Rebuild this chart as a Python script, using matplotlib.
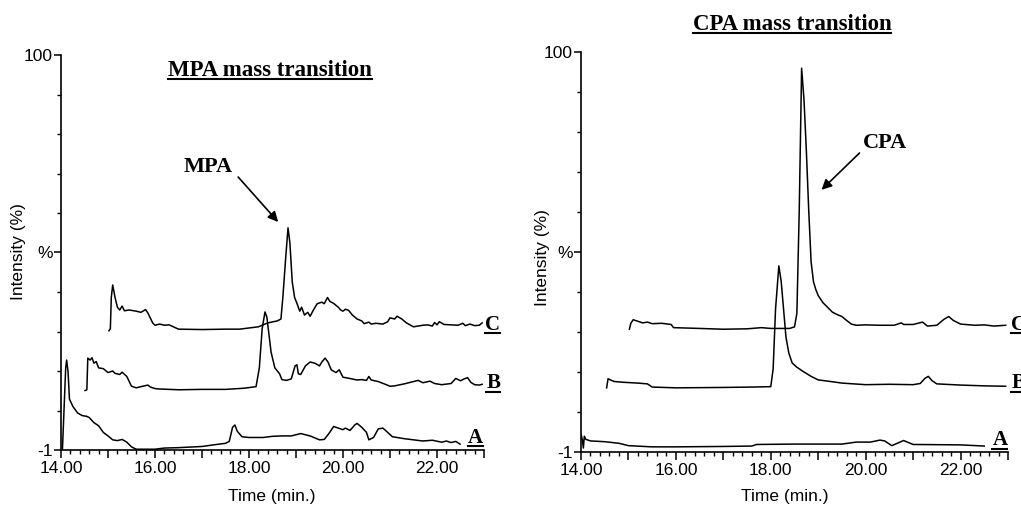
import matplotlib
matplotlib.use("Agg")
import matplotlib.pyplot as plt
from matplotlib.lines import Line2D
import numpy as np

# MPA panel traces (time in min, intensity in %)
mpa_c_t = [15.02, 15.05, 15.07, 15.10, 15.15, 15.2, 15.25, 15.3, 15.35, 15.45, 15.6, 15.7, 15.8, 15.85,
           15.95, 16.0, 16.1, 16.2, 16.3, 16.5, 17.0, 17.5, 17.8, 18.0, 18.2, 18.4, 18.6, 18.68, 18.72,
           18.78, 18.83, 18.87, 18.92, 18.97, 19.02, 19.08, 19.12, 19.18, 19.25, 19.3, 19.38, 19.45,
           19.55, 19.6, 19.67, 19.72, 19.8, 19.9, 19.95, 20.0, 20.05, 20.12, 20.2, 20.3, 20.4, 20.45,
           20.55, 20.6, 20.7, 20.85, 20.95, 21.0, 21.1, 21.15, 21.25, 21.35, 21.5, 21.6, 21.7, 21.8,
           21.9, 21.95, 22.0, 22.05, 22.15, 22.3, 22.45, 22.55, 22.6, 22.7, 22.8, 22.9, 22.96]
mpa_c_v = [29.5, 30, 38, 41.2, 38, 35.5, 34.8, 35.8, 34.6, 34.8, 34.5, 34.2, 34.9, 34,
           31.5, 30.9, 31.2, 30.9, 31, 29.9, 29.8, 29.9, 29.9, 30.2, 30.5, 31.5, 32.0, 32.5, 38,
           48, 55.8, 52, 42, 38, 36.5, 34.5, 35.5, 33.5, 34.2, 33.2, 35, 36.4,
           36.8, 36.4, 38, 37, 36.5, 35.5, 34.8, 34.5, 35, 34.7, 33.5, 32.5, 32, 31.3,
           31.7, 31.2, 31.4, 31.2, 31.8, 32.8, 32.5, 33.2, 32.5, 31.5, 30.5, 30.7, 30.9, 31,
           30.7, 31.6, 31, 31.8, 31.1, 31, 30.9, 31.4, 30.8, 31.2, 30.8, 30.9, 31.5]

mpa_b_t = [14.51, 14.55, 14.57, 14.62, 14.66, 14.7, 14.75, 14.8, 14.9, 15.0, 15.1, 15.15, 15.25, 15.3,
           15.4, 15.5, 15.6, 15.7, 15.85, 15.9, 16.0, 16.1, 16.5, 17.0, 17.5, 17.9, 18.15, 18.22, 18.28,
           18.34, 18.38, 18.42, 18.47, 18.55, 18.65, 18.7, 18.8, 18.9, 18.98, 19.02, 19.05, 19.1, 19.2,
           19.3, 19.4, 19.5, 19.55, 19.62, 19.68, 19.75, 19.85, 19.92, 20.0, 20.1, 20.3, 20.4, 20.5,
           20.55, 20.6, 20.75, 20.9, 21.0, 21.1, 21.3, 21.5, 21.6, 21.7, 21.85, 21.95, 22.1, 22.3,
           22.4, 22.5, 22.58, 22.65, 22.72, 22.8, 22.9, 22.96]
mpa_b_v = [14.2, 14.4, 22.5, 22.0, 22.6, 21.2, 21.6, 20, 19.8, 18.8, 19.2, 18.6, 18.3, 18.9,
           17.8, 15.3, 14.9, 15.2, 15.6, 15.1, 14.7, 14.6, 14.4, 14.5, 14.5, 14.8, 15.2, 20, 30,
           34.3, 33, 29, 24, 20, 18.5, 17.0, 16.8, 17.2, 20.5, 20.8, 18.5, 18.3, 20.5,
           21.5, 21.2, 20.5, 21.5, 22.5, 21.5, 19.5, 18.8, 19.5, 17.6, 17.4, 16.9, 17, 16.8,
           17.8, 16.9, 16.5, 15.8, 15.3, 15.4, 15.9, 16.5, 16.8, 16.2, 16.6, 16.0, 15.7, 16,
           17.3, 16.7, 17.2, 17.5, 16.3, 15.7, 15.6, 15.8]

mpa_a_t = [14.03, 14.06, 14.1, 14.12, 14.15, 14.18, 14.25, 14.35, 14.45, 14.55, 14.6, 14.7, 14.8, 14.9,
           15.0, 15.1, 15.2, 15.3, 15.4, 15.5, 15.6, 16.0, 16.2, 16.5, 17.0, 17.3, 17.5, 17.58, 17.65,
           17.7, 17.75, 17.85, 18.0, 18.3, 18.5, 18.7, 18.9, 19.1, 19.3, 19.5, 19.6, 19.7, 19.8, 19.9,
           20.0, 20.05, 20.15, 20.25, 20.3, 20.4, 20.5, 20.55, 20.65, 20.75, 20.85, 20.95, 21.05,
           21.3, 21.5, 21.7, 21.9, 22.1, 22.2, 22.3, 22.4, 22.49]
mpa_a_v = [-1, 8, 20, 22, 19, 12, 10.2, 8.5, 7.8, 7.6, 7.3, 6, 5.2, 3.5,
           2.6, 1.6, 1.4, 1.7, 1.0, -0.2, -0.8, -0.8, -0.5, -0.4, -0.1, 0.4, 0.7, 1.2, 4.8,
           5.4, 3.8, 2.4, 2.2, 2.2, 2.5, 2.6, 2.6, 3.2, 2.6, 1.6, 1.7, 3.2, 5.0, 4.6,
           4.2, 4.6, 4.0, 5.4, 5.8, 4.8, 3.5, 1.6, 2.2, 4.4, 4.6, 3.5, 2.4,
           1.9, 1.6, 1.3, 1.5, 1.0, 1.3, 0.9, 1.2, 0.5]

# CPA panel traces
cpa_c_t = [15.02, 15.05, 15.1, 15.2, 15.3, 15.4, 15.5, 15.7, 15.9, 15.95, 16.5, 17.0, 17.5, 17.8, 18.0,
           18.4, 18.5, 18.55, 18.6, 18.65, 18.7, 18.75, 18.8, 18.85, 18.9, 18.95, 19.0, 19.1, 19.2,
           19.3, 19.4, 19.5, 19.6, 19.7, 19.8, 20.0, 20.3, 20.6, 20.75, 20.8, 21.0, 21.2, 21.3, 21.5,
           21.65, 21.75, 21.85, 22.0, 22.3, 22.5, 22.7, 22.95]
cpa_c_v = [30.0, 31.5, 32.4, 32.0, 31.6, 31.8, 31.4, 31.5, 31.2, 30.4, 30.2, 30.0, 30.1, 30.4, 30.2,
           30.2, 30.6, 34, 60, 95.9, 88, 75, 60, 47, 42, 40, 38.5, 36.7, 35.5,
           34.3, 33.7, 33.2, 32.2, 31.3, 31.0, 31.1, 31.0, 31.0, 31.6, 31.2, 31.2, 31.8, 30.8, 31.0,
           32.5, 33.2, 32.2, 31.3, 31.0, 31.1, 30.8, 31.0]

cpa_b_t = [14.54, 14.57, 14.62, 14.7, 14.9, 15.2, 15.4, 15.5, 16.0, 17.0, 17.6, 18.0, 18.05, 18.1, 18.17,
           18.22, 18.27, 18.32, 18.38, 18.45, 18.55, 18.7, 18.85, 19.0, 19.2, 19.5, 20.0, 20.5, 21.0,
           21.15, 21.25, 21.32, 21.4, 21.5, 22.0, 22.5, 22.95]
cpa_b_v = [15.2, 17.5, 17.2, 16.8, 16.6, 16.4, 16.2, 15.4, 15.2, 15.3, 15.4, 15.5, 20, 35, 46,
           42, 35, 28, 24, 21.5, 20.4, 19.2, 18.1, 17.2, 16.9, 16.4, 16.0, 16.1, 16.0,
           16.3, 17.6, 18.1, 17.0, 16.2, 15.9, 15.7, 15.6]

cpa_a_t = [14.0, 14.03, 14.05, 14.07, 14.1, 14.2, 14.5, 14.8, 15.0, 15.5, 16.0, 17.0, 17.6, 17.7, 18.5,
           19.5, 19.8, 20.1, 20.3, 20.4, 20.55, 20.8, 21.0, 22.0, 22.5]
cpa_a_v = [3.5, 2, 0, 3, 2.2, 1.8, 1.6, 1.2, 0.6, 0.3, 0.3, 0.4, 0.5, 0.9, 1.0,
           1.0, 1.5, 1.5, 2.0, 1.8, 0.6, 1.9, 0.9, 0.8, 0.5]

trace_labels = ["C", "B", "A"]
mpa_label_pos = [(23.02, 31), (23.05, 16.1), (22.65, 2.1)]
cpa_label_pos = [(23.07, 31.1), (23.07, 16.4), (22.67, 2.0)]

x_ticklabels = ["14.00", "", "16.00", "", "18.00", "", "20.00", "", "22.00", ""]
y_ticks = [-1, 49.5, 100]
y_ticklabels = ["-1", "%", "100"]

serif = ["Liberation Serif", "DejaVu Serif"]
sans = ["Liberation Sans", "DejaVu Sans"]

fig = plt.figure(figsize=(10.21, 5.13), dpi=100)
ax1 = fig.add_axes([61 / 1021, 1 - 450 / 513, 423 / 1021, 395 / 513])
ax2 = fig.add_axes([581 / 1021, 1 - 452 / 513, 427 / 1021, 400 / 513])


def style(ax):
    ax.set_xlim(14, 23)
    ax.set_ylim(-1, 100)
    for s in ["top", "right"]:
        ax.spines[s].set_visible(False)
    for s in ["left", "bottom"]:
        ax.spines[s].set_linewidth(1.2)
    ax.set_xticks(list(range(14, 24)))
    ax.set_xticklabels(x_ticklabels, family=sans, fontsize=12.5)
    ax.set_xticks(np.arange(14, 23.01, 0.2), minor=True)
    ax.set_yticks(y_ticks)
    ax.set_yticklabels(y_ticklabels, family=sans, fontsize=12.5)
    ax.set_yticks(np.linspace(-1, 100, 11), minor=True)
    ax.tick_params(axis="x", which="major", length=6, width=1.1, pad=2)
    ax.tick_params(axis="x", which="minor", length=3, width=1.0)
    ax.tick_params(axis="y", which="major", length=5, width=1.1, pad=1)
    ax.tick_params(axis="y", which="minor", length=3, width=1.0)


def underlined(ax, x, y, s, size, ha="left", va="center"):
    if ax is not None:
        t = ax.text(x, y, s, family=serif, weight="bold", fontsize=size,
                    ha=ha, va=va, clip_on=False)
    else:
        t = fig.text(x, y, s, family=serif, weight="bold", fontsize=size, ha=ha, va=va)
    fig.canvas.draw()
    bb = t.get_window_extent().transformed(fig.transFigure.inverted())
    fig.add_artist(Line2D([bb.x0, bb.x1], [bb.y0 + 0.003, bb.y0 + 0.003],
                          transform=fig.transFigure, color="black", lw=1.5))


for ax in (ax1, ax2):
    style(ax)

ax1.plot(mpa_c_t, mpa_c_v, color="black", lw=1.1)
ax1.plot(mpa_b_t, mpa_b_v, color="black", lw=1.1)
ax1.plot(mpa_a_t, mpa_a_v, color="black", lw=1.1)
ax2.plot(cpa_c_t, cpa_c_v, color="black", lw=1.1)
ax2.plot(cpa_b_t, cpa_b_v, color="black", lw=1.1)
ax2.plot(cpa_a_t, cpa_a_v, color="black", lw=1.1)

for lab, (x, y) in zip(trace_labels, mpa_label_pos):
    underlined(ax1, x, y, lab, 15)
for lab, (x, y) in zip(trace_labels, cpa_label_pos):
    underlined(ax2, x, y, lab, 15)

arrow = dict(arrowstyle="-|>", color="black", lw=1.2, shrinkA=0, shrinkB=0, mutation_scale=15)
ax1.text(17.13, 71.4, "MPA", family=serif, weight="bold", fontsize=16, ha="center", va="center")
ax1.annotate("", xy=(18.62, 57.3), xytext=(17.77, 68.8), arrowprops=arrow)
ax2.text(20.4, 77, "CPA", family=serif, weight="bold", fontsize=16, ha="center", va="center")
ax2.annotate("", xy=(19.07, 65.2), xytext=(19.87, 74.5), arrowprops=arrow)

underlined(None, 270 / 1021, 1 - 70 / 513, "MPA mass transition", 16.5, ha="center")
underlined(None, 792 / 1021, 1 - 24 / 513, "CPA mass transition", 16.5, ha="center")

fig.text(18 / 1021, 1 - 252 / 513, "Intensity (%)", family=sans, fontsize=12.5, rotation=90,
         ha="center", va="center")
fig.text(542 / 1021, 1 - 258 / 513, "Intensity (%)", family=sans, fontsize=12.5, rotation=90,
         ha="center", va="center")
fig.text(272 / 1021, 1 - 497 / 513, "Time (min.)", family=sans, fontsize=12.5, ha="center", va="center")
fig.text(785 / 1021, 1 - 497 / 513, "Time (min.)", family=sans, fontsize=12.5, ha="center", va="center")

fig.savefig("out.png", dpi=100)
